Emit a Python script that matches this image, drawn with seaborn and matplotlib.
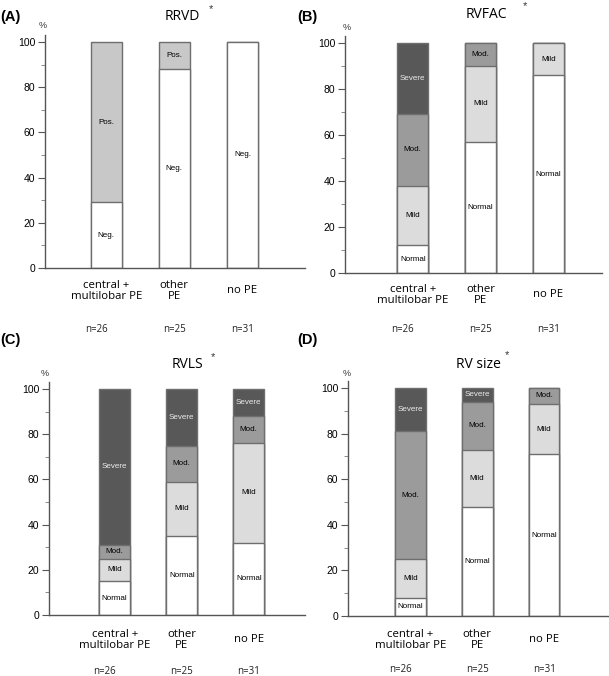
import matplotlib
matplotlib.use('Agg')
import matplotlib.pyplot as plt
import matplotlib.transforms as mtransforms
import numpy as np
import seaborn as sns

# Data (percent of patients per group)
groups = ['central +\nmultilobar PE', 'other\nPE', 'no PE']
n_labels = ['n=26', 'n=25', 'n=31']

rrvd_neg = [29, 88, 100]
rrvd_pos = [71, 12, 0]

rvfac_normal = [12, 57, 86]
rvfac_mild = [26, 33, 14]
rvfac_mod = [31, 10, 0]
rvfac_severe = [31, 0, 0]

rvls_normal = [15, 35, 32]
rvls_mild = [10, 24, 44]
rvls_mod = [6, 16, 12]
rvls_severe = [69, 25, 12]

rvsize_normal = [8, 48, 71]
rvsize_mild = [17, 25, 22]
rvsize_mod = [56, 21, 7]
rvsize_severe = [19, 6, 0]

W, H = 609, 676
sns.set_style('white')
plt.rcParams['font.family'] = ['Liberation Sans', 'DejaVu Sans']
plt.rcParams['text.color'] = 'black'
plt.rcParams['ytick.labelcolor'] = 'black'

fig = plt.figure(figsize=(W / 100, H / 100), dpi=100)

COLORS = {
    'Normal': '#ffffff', 'Neg.': '#ffffff',
    'Mild': '#dcdcdc', 'Pos.': '#c8c8c8',
    'Mod.': '#9b9b9b', 'Severe': '#585858',
}
EDGE = '#6e6e6e'


def fx(x):
    return x / W


def fy(y):
    return 1 - y / H


def draw_panel(box, xlim, letter, letter_xy, title, title_xy, star_xy,
               pct_xy, label_y, n_y, n_dx, segments):
    # box: left, right, zero-line y, y of 100 (pixels)
    left, right, y0, y100 = box
    top = y0 - (y0 - y100) * 1.03
    ax = fig.add_axes([fx(left), fy(y0), fx(right - left), (y0 - top) / H])

    names = [s[0] for s in segments]
    vals = np.array([s[1] for s in segments], dtype=float)
    cum = np.cumsum(vals, axis=0)

    # stacked bars: draw the full stack first, then overlay lower levels
    for i in range(len(segments) - 1, -1, -1):
        sns.barplot(x=groups, y=cum[i], color=COLORS[names[i]],
                    edgecolor=EDGE, linewidth=1.0, width=0.46,
                    saturation=1, ax=ax)

    for i, name in enumerate(names):
        for j in range(len(groups)):
            if vals[i, j] <= 0:
                continue
            mid = cum[i, j] - vals[i, j] / 2
            tc = '#ececec' if name == 'Severe' else '#000000'
            ax.text(j, mid, name, ha='center', va='center', fontsize=5.8,
                    color=tc)

    ax.set_xlim(*xlim)
    ax.set_ylim(0, 103)
    ax.set_xticks([])
    ax.set_xlabel('')
    ax.set_yticks(range(0, 101, 20))
    ax.set_yticks(range(10, 100, 20), minor=True)
    ax.tick_params(axis='y', which='major', direction='out', length=5,
                   width=0.8, color='#555555', labelsize=7.5, pad=2,
                   left=True)
    ax.tick_params(axis='y', which='minor', direction='out', length=3,
                   width=0.6, color='#777777', left=True)
    for side in ['top', 'right']:
        ax.spines[side].set_visible(False)
    for side in ['left', 'bottom']:
        ax.spines[side].set_color('#555555')
        ax.spines[side].set_linewidth(1.0)

    trans = mtransforms.blended_transform_factory(ax.transData,
                                                  fig.transFigure)
    for j, g in enumerate(groups):
        ax.text(j, fy(label_y), g, transform=trans, ha='center',
                va='center', fontsize=8.2, family='Open Sans',
                linespacing=1.05)
        ax.text(j + n_dx[j], fy(n_y), n_labels[j], transform=trans,
                ha='center', va='center', fontsize=7, family='Open Sans',
                color='#222222')

    fig.text(fx(letter_xy[0]), fy(letter_xy[1]), letter, ha='left',
             va='center', fontsize=10.5, fontweight='bold')
    fig.text(fx(title_xy[0]), fy(title_xy[1]), title, ha='center',
             va='center', fontsize=10, family='Open Sans')
    fig.text(fx(star_xy[0]), fy(star_xy[1]), '*', ha='center',
             va='center', fontsize=8, color='#333333')
    fig.text(fx(pct_xy[0]), fy(pct_xy[1]), '%', ha='center', va='center',
             fontsize=6.5, color='#333333')
    return ax


n_shift = [-0.15, 0.0, 0.0]

draw_panel((45, 305, 268, 42), (-0.90, 2.92), '(A)', (0, 17),
           'RRVD', (182, 17), (211, 9), (43, 25), 291, 329, n_shift,
           [('Neg.', rrvd_neg), ('Pos.', rrvd_pos)])

draw_panel((345, 602, 273, 43), (-1.0, 2.79), '(B)', (297, 17),
           'RVFAC', (486, 15), (525, 6), (347, 27), 295, 329, n_shift,
           [('Normal', rvfac_normal), ('Mild', rvfac_mild),
            ('Mod.', rvfac_mod), ('Severe', rvfac_severe)])

draw_panel((49, 305, 615, 389), (-0.98, 2.84), '(C)', (0, 340),
           'RVLS', (187, 365), (213, 357), (45, 373), 640, 672, n_shift,
           [('Normal', rvls_normal), ('Mild', rvls_mild),
            ('Mod.', rvls_mod), ('Severe', rvls_severe)])

draw_panel((348, 609, 616, 388), (-0.93, 2.97), '(D)', (297, 340),
           'RV size', (478, 365), (507, 355), (347, 373), 640, 670, n_shift,
           [('Normal', rvsize_normal), ('Mild', rvsize_mild),
            ('Mod.', rvsize_mod), ('Severe', rvsize_severe)])

fig.savefig('out.png', dpi=100)
